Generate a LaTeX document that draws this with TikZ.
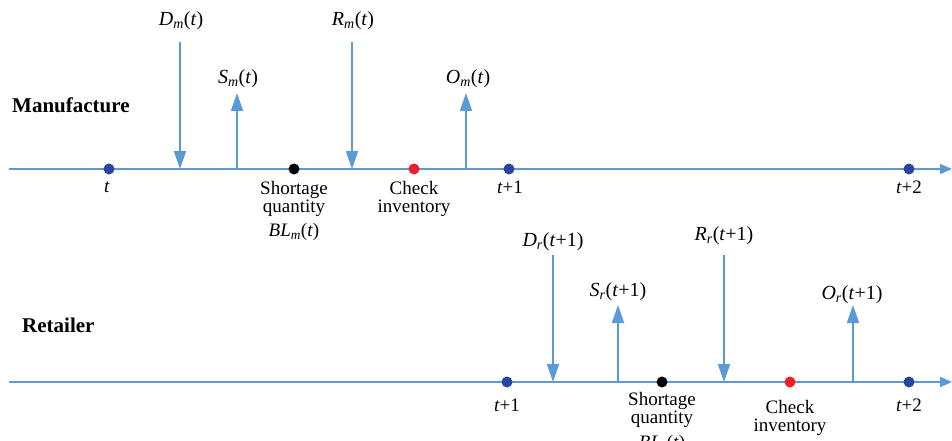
\documentclass[tikz,border=0pt]{standalone}
\usepackage{fontspec}
\setmainfont{Liberation Serif}
\usetikzlibrary{arrows.meta}
\definecolor{lblue}{RGB}{91,155,213}
\definecolor{dblue}{RGB}{40,70,160}
\definecolor{dred}{RGB}{240,30,40}
\newcommand\vv[2]{\textit{#1}\textsubscript{\textit{#2}}}
\begin{document}
\begin{tikzpicture}[x=1pt,y=-1pt,
  axis/.style={draw=lblue,line width=1.8pt,-{Triangle[width=10pt,length=12pt]}},
  evdown/.style={draw=lblue,line width=1.8pt,-{Triangle[width=12pt,length=18pt]}},
  evup/.style={draw=lblue,line width=1.8pt,-{Triangle[width=12pt,length=18pt]}},
  dot/.style={circle,inner sep=0pt,minimum size=11pt},
  lbl/.style={font=\fontsize{19}{18}\selectfont,inner sep=0pt,align=center},
  mlbl/.style={font=\fontsize{20}{20}\selectfont,inner sep=0pt},
  head/.style={font=\fontsize{21}{21}\selectfont\bfseries,inner sep=0pt,anchor=west}]
\useasboundingbox (0,0) rectangle (952,441);
% ---------- Manufacture ----------
\node[head] (hm) at (12,105) {Manufacture};
\coordinate (am0) at (9,169);
\coordinate (am1) at (952,169);
\draw[axis] (am0) -- (am1);
\node[dot,fill=dblue] (m1) at (109,169) {};
\node[dot,fill=black] (m2) at (294,169) {};
\node[dot,fill=dred] (m3) at (414,169) {};
\node[dot,fill=dblue] (m4) at (509,169) {};
\node[dot,fill=dblue] (m5) at (909,169) {};
\node[lbl] (tm1) at (107,187) {\textit{t}};
\node[lbl] (tm2) at (294,199) {Shortage\\quantity};
\node[lbl] (tm2b) at (294,232) {\vv{BL}{m}(\textit{t})};
\node[lbl] (tm3) at (414,199) {Check\\inventory};
\node[lbl] (tm4) at (510,187) {\textit{t}+1};
\node[lbl] (tm5) at (909,187) {\textit{t}+2};
\node[mlbl] (Dm) at (181,21) {\vv{D}{m}(\textit{t})};
\node[mlbl] (Rm) at (353,21) {\vv{R}{m}(\textit{t})};
\node[mlbl] (Sm) at (238,79) {\vv{S}{m}(\textit{t})};
\node[mlbl] (Om) at (468,79) {\vv{O}{m}(\textit{t})};
\coordinate (dm0) at (180,42); \coordinate (dm1) at (180,169);
\coordinate (rm0) at (352,42); \coordinate (rm1) at (352,169);
\coordinate (sm0) at (237,169); \coordinate (sm1) at (237,93);
\coordinate (om0) at (466,169); \coordinate (om1) at (466,93);
\draw[evdown] (dm0) -- (dm1);
\draw[evdown] (rm0) -- (rm1);
\draw[evup] (sm0) -- (sm1);
\draw[evup] (om0) -- (om1);
% ---------- Retailer ----------
\node[head] (hr) at (22,325) {Retailer};
\coordinate (ar0) at (9,382);
\coordinate (ar1) at (952,382);
\draw[axis] (ar0) -- (ar1);
\node[dot,fill=dblue] (r1) at (507,382) {};
\node[dot,fill=black] (r2) at (662,382) {};
\node[dot,fill=dred] (r3) at (790,382) {};
\node[dot,fill=dblue] (r5) at (909,382) {};
\node[lbl] (tr1) at (507,405) {\textit{t}+1};
\node[lbl] (tr2) at (662,410) {Shortage\\quantity};
\node[lbl] (tr2b) at (662,444) {\vv{BL}{r}(\textit{t})};
\node[lbl] (tr3) at (790,418) {Check\\inventory};
\node[lbl] (tr5) at (909,405) {\textit{t}+2};
\node[mlbl] (Dr) at (553,242) {\vv{D}{r}(\textit{t}+1)};
\node[mlbl] (Rr) at (724,236) {\vv{R}{r}(\textit{t}+1)};
\node[mlbl] (Sr) at (618,292) {\vv{S}{r}(\textit{t}+1)};
\node[mlbl] (Or) at (852,295) {\vv{O}{r}(\textit{t}+1)};
\coordinate (dr0) at (553,255); \coordinate (dr1) at (553,382);
\coordinate (rr0) at (724,255); \coordinate (rr1) at (724,382);
\coordinate (sr0) at (618,382); \coordinate (sr1) at (618,305);
\coordinate (or0) at (853,382); \coordinate (or1) at (853,305);
\draw[evdown] (dr0) -- (dr1);
\draw[evdown] (rr0) -- (rr1);
\draw[evup] (sr0) -- (sr1);
\draw[evup] (or0) -- (or1);
\end{tikzpicture}
\end{document}
